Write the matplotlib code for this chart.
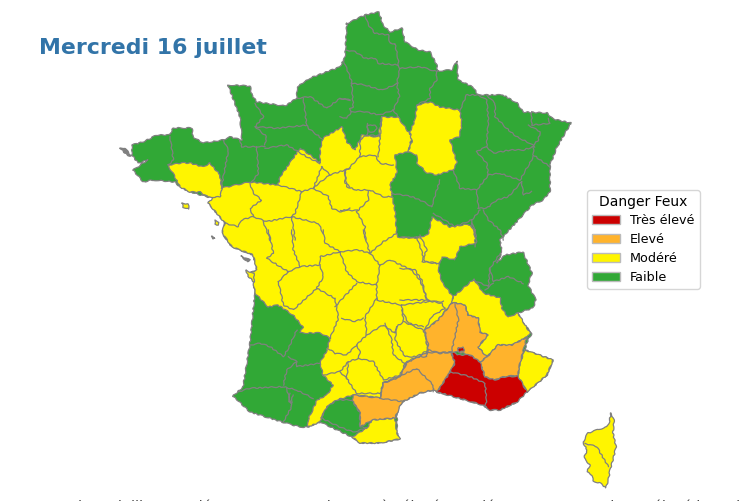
import matplotlib
matplotlib.use("Agg")
import matplotlib.pyplot as plt
from matplotlib.patches import Patch, Polygon

LEVELS = ["Très élevé", "Elevé", "Modéré", "Faible"]
COLORS = ["#cc0000", "#ffb32c", "#fff500", "#31a836"]

FRANCE = [(346,24),(365,15),(379,12),(383,25),(390,32),(402,28),(405,42),(418,50),(430,52),(437,65),(437,71),(452,70),(457,61),(458,80),(473,87),(478,95),(503,95),(517,103),(523,112),(547,113),(553,119),(571,123),(557,147),(550,165),(550,192),(543,200),(532,205),(512,227),(500,240),(502,252),(497,263),(505,255),(523,252),(532,273),(528,285),(536,300),(533,308),(518,313),(522,322),(532,333),(527,342),(525,350),(553,360),(547,375),(532,388),(525,392),(517,402),(500,410),(490,410),(483,405),(472,402),(455,397),(437,392),(433,390),(420,393),(402,402),(397,413),(397,433),(400,439),(380,443),(360,443),(352,437),(320,422),(308,427),(300,427),(282,422),(250,412),(233,396),(243,387),(250,343),(255,293),(253,280),(250,273),(257,270),(253,255),(232,247),(222,233),(225,223),(208,203),(220,197),(208,197),(190,192),(180,187),(175,182),(153,180),(143,182),(133,170),(148,160),(138,163),(132,155),(132,145),(143,142),(157,135),(170,135),(173,128),(192,128),(193,137),(203,143),(223,140),(230,137),(242,140),(240,117),(228,85),(250,86),(252,95),(257,102),(285,106),(297,98),(297,87),(310,78),(340,67),(345,57),(347,23)]
YELLOW_MAIN = [(255,293),(253,280),(250,273),(257,270),(253,255),(232,247),(222,233),(225,223),(208,203),(222,188),(250,182),(278,185),(280,177),(292,160),(300,148),(313,157),(320,163),(320,150),(323,138),(342,127),(347,142),(355,150),(362,135),(378,137),(382,117),(398,117),(412,137),(408,152),(395,155),(397,173),(390,185),(395,210),(397,237),(415,238),(428,235),(432,217),(450,227),(468,224),(475,230),(475,243),(460,247),(455,260),(442,257),(438,268),(442,282),(453,297),(452,303),(438,320),(425,330),(428,352),(413,360),(407,362),(400,377),(383,383),(380,398),(353,395),(337,400),(327,407),(321,418),(320,422),(308,427),(308,420),(317,400),(327,395),(333,385),(323,375),(320,363),(327,350),(330,338),(320,333),(300,333),(303,327),(293,315),(278,305),(268,307)]
YELLOW_MORBIHAN = [(168,165),(182,163),(190,163),(203,167),(210,163),(220,175),(222,190),(220,197),(208,197),(200,192),(190,192),(180,187),(175,177)]
YELLOW_MARNE = [(417,105),(430,102),(440,107),(460,110),(462,125),(459,137),(450,140),(457,163),(453,170),(437,175),(427,173),(417,163),(417,155),(408,152),(412,142),(410,132),(415,120)]
YELLOW_ISERE = [(474,279),(483,293),(500,298),(502,308),(508,317),(518,313),(530,333),(527,337),(512,345),(498,345),(487,357),(478,347),(488,335),(480,332),(478,318),(468,315),(465,305),(455,303),(452,303),(453,297)]
YELLOW_NICE = [(525,350),(553,360),(547,375),(532,388),(527,392),(518,376),(520,363)]
YELLOW_PO = [(352,437),(367,428),(372,420),(395,418),(397,433),(400,439),(380,443),(360,443)]
YELLOW_CORSE = [(611,413),(614,420),(613,433),(616,447),(613,460),(610,470),(609,477),(606,488),(600,483),(593,481),(592,475),(587,472),(590,465),(584,458),(587,450),(583,442),(588,433),(600,429),(607,427),(609,423)]
ORANGE_WEST = [(452,303),(438,320),(425,330),(428,352),(413,360),(407,362),(400,377),(383,383),(380,398),(353,395),(352,400),(360,413),(360,427),(372,420),(395,418),(397,413),(402,402),(420,393),(433,390),(437,392),(443,383),(450,372),(455,363),(451,352),(458,352),(470,355),(480,362),(487,357),(478,347),(488,335),(480,332),(478,318),(468,315),(465,305),(455,303)]
ORANGE_EAST = [(487,357),(498,345),(512,345),(527,337),(520,363),(518,375),(503,377),(495,380),(485,377),(480,362)]
RED_PROVENCE = [(451,352),(455,352),(457,355),(470,355),(480,362),(485,377),(495,380),(503,377),(518,376),(527,392),(517,402),(500,410),(490,410),(483,405),(472,402),(455,397),(437,392),(443,383),(450,372),(455,363)]
RED_VALREAS = [(458,348),(463,347),(464,351),(459,352)]
GREEN_ARIEGE = [(321,418),(327,407),(337,400),(352,400),(360,413),(360,427),(367,428),(353,432),(340,427)]
YELLOW_ISLANDS = [[(182,203),(188,204),(189,209),(183,207)],[(246,270),(254,274),(254,282),(248,276)],[(215,220),(219,222),(218,225),(215,224)],[(212,236),(215,238),(213,239)]]
GREY_ISLANDS = [[(120,148),(125,148),(131,156),(127,155)],[(241,256),(250,260),(248,262)]]

NE_BORDERS = [
 [(75,45),(85,75),(105,100),(145,105),(150,130),(165,130),(175,180),(175,195)],
 [(18,150),(45,155),(75,175),(105,175),(115,190),(175,195),(180,205),(240,200),(290,215)],
 [(10,180),(35,245),(35,250),(75,255),(125,270),(175,250)],
 [(180,205),(170,250),(178,290),(160,330),(175,350)],
 [(290,215),(290,240),(270,265),(270,295),(230,315)],
 [(360,330),(380,285),(415,285)],
 [(415,285),(440,300),(445,360),(440,440),(410,455)],
 [(440,285),(465,310),(465,350),(500,385),(530,410),(570,430),(585,440)],
 [(625,355),(630,370),(575,375),(575,335)],
 [(565,375),(600,395),(595,420),(580,435),(580,465),(630,500)],
 [(440,440),(460,460),(510,450),(550,450),(580,440)],
 [(410,455),(440,490),(445,525),(480,520),(540,540),(580,470)],
 [(545,545),(505,590),(470,600),(440,625),(415,625)],
 [(340,510),(360,565),(410,570),(445,525)],
 [(410,570),(415,625)],
 [(275,620),(300,540)],
 [(280,640),(345,680),(395,660),(420,630)],
 [(430,630),(445,660),(480,690),(490,720)],
 [(395,670),(405,710)],
 [(545,545),(550,585),(575,575)],
 [(155,580),(215,590),(250,605),(275,620)],
 [(35,335),(70,335),(120,345),(160,330)],
 [(0,350),(20,355),(35,335),(30,325),(40,320),(35,250)],
 [(0,295),(30,300)],
 [(80,370),(80,405),(120,405)],
 [(125,350),(115,470)],
 [(80,405),(60,420),(60,470),(105,465),(120,490),(160,495)],
 [(60,470),(15,515),(20,560),(50,570),(90,570),(130,590),(155,590)],
 [(85,575),(85,600),(50,635),(75,680),(75,720)],
 [(0,630),(50,630)],
 [(84,376),(92,374),(105,376),(110,385),(104,395),(90,395),(82,388),(84,376)],
]
NW_BORDERS = [
 [(435,310),(460,350),(435,380),(470,410),(465,435)],
 [(435,380),(500,385),(590,375)],
 [(580,295),(590,375),(595,385),(635,415)],
 [(560,295),(600,290),(650,325),(690,295),(720,300)],
 [(465,440),(440,440),(395,440),(390,420)],
 [(465,445),(530,435),(590,470),(630,490)],
 [(440,440),(445,520),(425,545)],
 [(340,420),(355,450),(340,530),(335,565)],
 [(180,410),(190,480),(175,495)],
 [(420,550),(430,580),(455,600),(420,625),(430,650),(395,660),(385,680),(345,670)],
 [(505,555),(575,575),(610,565),(635,500)],
 [(575,575),(555,640),(545,650)],
 [(610,565),(655,590),(665,625),(690,635),(720,625)],
 [(430,650),(470,665),(545,650),(625,670),(640,700)],
 [(545,650),(555,720)],
 [(460,665),(480,720)],
 [(635,500),(660,525),(705,510),(720,505)],
 [(660,525),(625,550),(610,565)],
 [(705,510),(705,550),(720,560)],
]
S_BORDERS = [
 [(145,0),(160,70),(140,85),(205,125)],
 [(215,0),(220,60),(240,110)],
 [(205,125),(240,110),(300,105),(300,80),(360,65)],
 [(175,155),(205,125)],
 [(175,155),(190,225),(220,240),(235,225),(290,175)],
 [(300,105),(310,140),(290,175),(345,205)],
 [(360,65),(380,125),(410,155),(470,165)],
 [(360,65),(415,60),(450,70),(480,105)],
 [(480,105),(470,165),(470,210),(545,225)],
 [(310,0),(315,40),(360,65)],
 [(430,0),(445,55),(450,70),(490,35),(530,10)],
 [(590,20),(615,95),(660,100)],
 [(480,105),(510,90),(575,120),(600,150),(625,215)],
 [(545,225),(625,215),(670,215)],
 [(345,205),(355,265),(330,325)],
 [(345,230),(410,160)],
 [(365,265),(405,275),(430,265)],
 [(470,205),(435,260),(440,315),(410,345),(380,375),(345,370),(325,355)],
 [(440,315),(490,285),(525,310),(530,290),(550,275),(545,225)],
 [(530,290),(525,330),(555,380),(620,380),(625,345),(610,300),(550,275)],
 [(495,280),(515,330),(520,375),(555,400)],
 [(410,345),(420,365),(415,385),(385,395),(380,445),(410,490),(480,490)],
 [(415,385),(460,395),(490,450),(540,435),(555,400)],
 [(310,435),(360,425),(385,395)],
 [(360,425),(380,445)],
 [(480,505),(490,460),(590,415),(640,465),(640,485)],
 [(480,505),(550,515)],
 [(555,400),(625,360),(660,370),(695,365)],
 [(90,345),(120,340),(150,350),(190,380),(205,355),(230,300)],
 [(205,380),(230,395),(230,410),(300,400)],
 [(230,395),(200,420),(190,465)],
 [(55,485),(90,475),(190,470),(230,480),(280,505)],
 [(200,475),(215,530),(190,575)],
 [(210,490),(205,515),(215,520),(218,495)],
]
SE_BORDERS = [
 [(220,180),(265,200),(270,145),(300,100)],
 [(270,145),(280,185),(325,170),(370,190)],
 [(255,210),(280,190)],
 [(215,0),(230,60),(225,80)],
 [(60,45),(80,90),(65,125),(110,130)],
 [(0,50),(60,50)],
 [(0,145),(45,150),(65,180),(80,240)],
 [(0,240),(80,240),(125,250),(135,265),(95,290),(75,330)],
 [(5,270),(25,310),(70,320)],
 [(165,250),(175,300),(155,395)],
 [(85,395),(125,395),(150,395)],
 [(150,455),(210,470),(255,490),(260,540),(255,560)],
 [(555,670),(590,680),(625,740)],
]

fig = plt.figure(figsize=(7.39, 5.01), dpi=100)
ax = fig.add_axes([0, 0, 1, 1])
ax.set_xlim(0, 739)
ax.set_ylim(501, 0)
ax.axis("off")
EDGE = "#808080"
SKETCH = (0.55, 9, 3)

def fill(points, color):
    p = Polygon(points, closed=True, facecolor=color, edgecolor=EDGE, linewidth=0.9, joinstyle="round")
    p.set_sketch_params(*SKETCH)
    ax.add_patch(p)

fill(FRANCE, COLORS[3])
for zone in (YELLOW_MAIN, YELLOW_MORBIHAN, YELLOW_MARNE, YELLOW_ISERE, YELLOW_NICE, YELLOW_PO, YELLOW_CORSE):
    fill(zone, COLORS[2])
for zone in (ORANGE_WEST, ORANGE_EAST):
    fill(zone, COLORS[1])
for zone in (RED_PROVENCE, RED_VALREAS):
    fill(zone, COLORS[0])
fill(GREEN_ARIEGE, COLORS[3])
for island in YELLOW_ISLANDS:
    fill(island, COLORS[2])
for island in GREY_ISLANDS:
    fill(island, EDGE)

for lines, ox, oy in ((NE_BORDERS, 340, 0), (NW_BORDERS, 110, 0), (S_BORDERS, 220, 230), (SE_BORDERS, 400, 220)):
    for line in lines:
        l, = ax.plot([ox + p[0] / 3 for p in line], [oy + p[1] / 3 for p in line], color=EDGE, lw=0.9, solid_joinstyle="round")
        l.set_sketch_params(*SKETCH)

ax.text(39, 54, "Mercredi 16 juillet", fontsize=15.85, fontweight="bold", color="#3274a8")
ax.text(78, 511, "le 15 juillet : 26 départements en risque très élevé et 3 départements en risque élevé le 16 juillet",
        fontsize=10.3, color="#444444", clip_on=False)

handles = [Patch(facecolor=c, edgecolor="#bbbbbb", label=l) for c, l in zip(COLORS, LEVELS)]
leg = ax.legend(handles=handles, title="Danger Feux", loc="upper left", bbox_to_anchor=(587 / 739, 1 - 190 / 501),
                borderaxespad=0, fontsize=9.15, title_fontsize=10, handlelength=2.2, labelspacing=0.48)
leg._legend_box.sep = 3.2
fig.savefig("out.png", dpi=100)
